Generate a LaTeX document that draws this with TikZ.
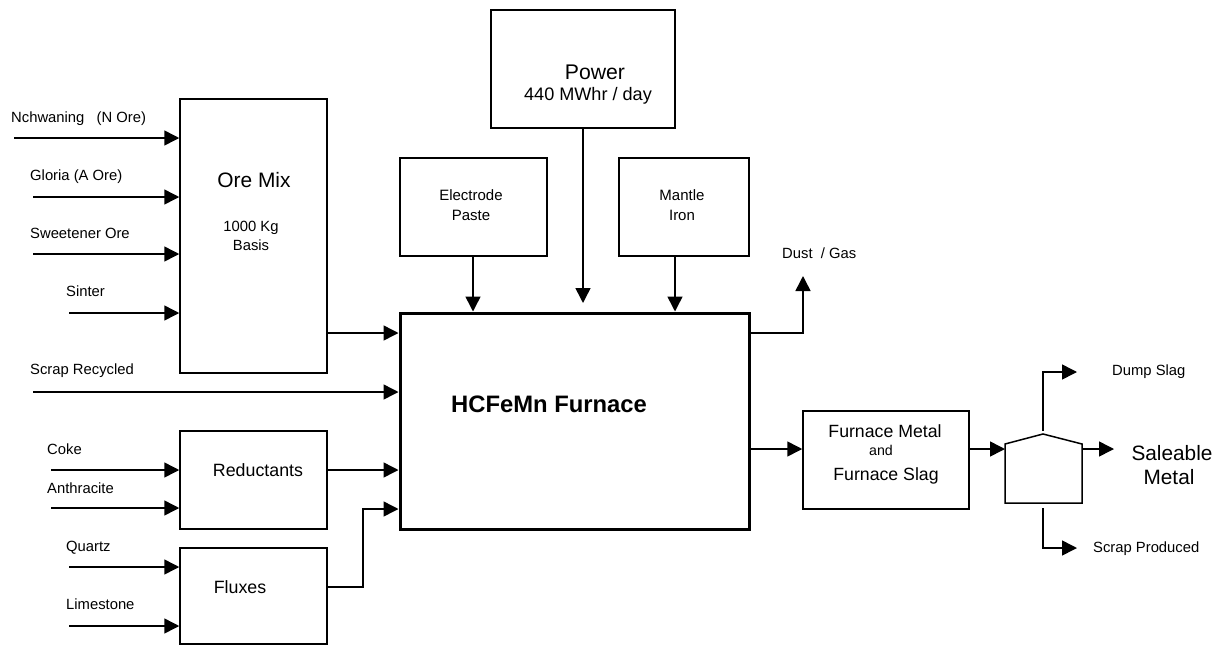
\documentclass[tikz,border=0pt]{standalone}
\usepackage{fontspec}
\setmainfont{Liberation Sans}
\usetikzlibrary{arrows.meta}
\begin{document}
\begin{tikzpicture}[x=1pt,y=-1pt,
  box/.style={draw,line width=1.5pt,minimum width=#1,inner sep=0pt},
  lbl/.style={anchor=base west,inner sep=0pt,font=\fontsize{14.8}{16}\selectfont},
  ctr/.style={anchor=base,inner sep=0pt},
  flow/.style={line width=1.5pt,-{Triangle[length=15pt,width=15pt]}}
]
\useasboundingbox (0,0) rectangle (1219,646);
% boxes
\node[box=147pt,minimum height=274pt] (ore) at (253.5,236) {};
\node[box=147pt,minimum height=98pt] (red) at (253.5,480) {};
\node[box=147pt,minimum height=96pt] (flux) at (253.5,596) {};
\node[box=184pt,minimum height=118pt] (power) at (583,69) {};
\node[box=147pt,minimum height=98pt] (paste) at (473.5,207) {};
\node[box=130pt,minimum height=98pt] (mantle) at (684,207) {};
\node[draw,line width=3pt,minimum width=349pt,minimum height=216pt,inner sep=0pt] (furn) at (574.5,421) {};
\node[box=166pt,minimum height=98pt] (fm) at (886,460) {};
% separator pentagon
\coordinate (pl) at (1005,503);
\coordinate (pr) at (1082,503);
\draw[line width=1.5pt] (pl) -- (1005,444) -- (1043,434) -- (1082,444) -- (pr) -- cycle;
\coordinate (sepin) at (1005,449);
\coordinate (sepout) at (1082,449);
\coordinate (septop) at (1043,431);
\coordinate (sepbot) at (1043,508);
% texts
\node[ctr,font=\fontsize{20.9}{22}\selectfont] (toremix) at (254,187) {Ore Mix};
\node[ctr,font=\fontsize{14.8}{16}\selectfont] (tkg) at (251,231) {1000 Kg};
\node[ctr,font=\fontsize{14.8}{16}\selectfont] (tbasis) at (251,250) {Basis};
\node[ctr,font=\fontsize{17.8}{19}\selectfont] (tred) at (258,476) {Reductants};
\node[ctr,font=\fontsize{17.8}{19}\selectfont] (tflux) at (240,593) {Fluxes};
\node[ctr,font=\fontsize{21.2}{22}\selectfont] (tpow) at (595,79) {Power};
\node[ctr,font=\fontsize{18.1}{19}\selectfont] (tmw) at (588,100) {440 MWhr / day};
\node[ctr,font=\fontsize{15}{16}\selectfont] (tel) at (471,200) {Electrode};
\node[ctr,font=\fontsize{15}{16}\selectfont] (tpa) at (471,220) {Paste};
\node[ctr,font=\fontsize{15}{16}\selectfont] (tma) at (682,200) {Mantle};
\node[ctr,font=\fontsize{15}{16}\selectfont] (tir) at (682,220) {Iron};
\node[ctr,font=\bfseries\fontsize{23.8}{25}\selectfont] (tfur) at (549,412) {HCFeMn Furnace};
\node[ctr,font=\fontsize{17.7}{19}\selectfont] (tfm1) at (885,437) {Furnace Metal};
\node[ctr,font=\fontsize{14.2}{15}\selectfont] (tand) at (881,455) {and};
\node[ctr,font=\fontsize{17.7}{19}\selectfont] (tfm2) at (886,480) {Furnace Slag};
\node[ctr,font=\fontsize{20.8}{22}\selectfont] (tsal) at (1172,460) {Saleable};
\node[ctr,font=\fontsize{20.8}{22}\selectfont] (tmet) at (1169,484) {Metal};
\node[lbl] (tdump) at (1112,375) {Dump Slag};
\node[lbl] (tscp) at (1093,552) {Scrap Produced};
\node[lbl] (tdust) at (782,258) {Dust\ \ / Gas};
\node[lbl] (tn) at (11,122) {Nchwaning\ \ \ (N Ore)};
\node[lbl] (tg) at (30,180) {Gloria (A Ore)};
\node[lbl] (tsw) at (30,238) {Sweetener Ore};
\node[lbl] (tsi) at (66,296) {Sinter};
\node[lbl] (tsr) at (30,374) {Scrap Recycled};
\node[lbl] (tco) at (47,454) {Coke};
\node[lbl] (tan) at (47,493) {Anthracite};
\node[lbl] (tqu) at (66,551) {Quartz};
\node[lbl] (tli) at (66,609) {Limestone};
% free ends
\coordinate (sn) at (14,138);
\coordinate (sg) at (33,197);
\coordinate (ss) at (33,254);
\coordinate (ssi) at (69,313);
\coordinate (ssr) at (33,392);
\coordinate (sco) at (51,470);
\coordinate (san) at (51,508);
\coordinate (squ) at (69,567);
\coordinate (sli) at (69,626);
\coordinate (dustend) at (803,276);
\coordinate (powend) at (583,303);
\coordinate (dumpend) at (1077,372);
\coordinate (scpend) at (1077,548);
\coordinate (salend) at (1114,449);
% connectors
\draw[flow] (sn) -- (sn -| ore.west);
\draw[flow] (sg) -- (sg -| ore.west);
\draw[flow] (ss) -- (ss -| ore.west);
\draw[flow] (ssi) -- (ssi -| ore.west);
\draw[flow] (ssr) -- (ssr -| furn.west);
\draw[flow] (sco) -- (sco -| red.west);
\draw[flow] (san) -- (san -| red.west);
\draw[flow] (squ) -- (squ -| flux.west);
\draw[flow] (sli) -- (sli -| flux.west);
\draw[flow] (ore.east |- 0,333) -- (furn.west |- 0,333);
\draw[flow] (red.east |- 0,470) -- (furn.west |- 0,470);
\draw[flow] (flux.east |- 0,587) -| (363,509) -- (furn.west |- 0,509);
\draw[flow] (paste.south -| 473,0) -- (furn.north -| 473,0);
\draw[flow] (mantle.south -| 675,0) -- (furn.north -| 675,0);
\draw[flow] (power.south) -- (powend);
\draw[flow] (furn.east |- 0,333) -| (dustend);
\draw[flow] (furn.east |- 0,449) -- (fm.west |- 0,449);
\draw[flow] (fm.east |- sepin) -- (sepin);
\draw[flow] (sepout) -- (salend);
\draw[flow] (septop) |- (dumpend);
\draw[flow] (sepbot) |- (scpend);
\end{tikzpicture}
\end{document}
